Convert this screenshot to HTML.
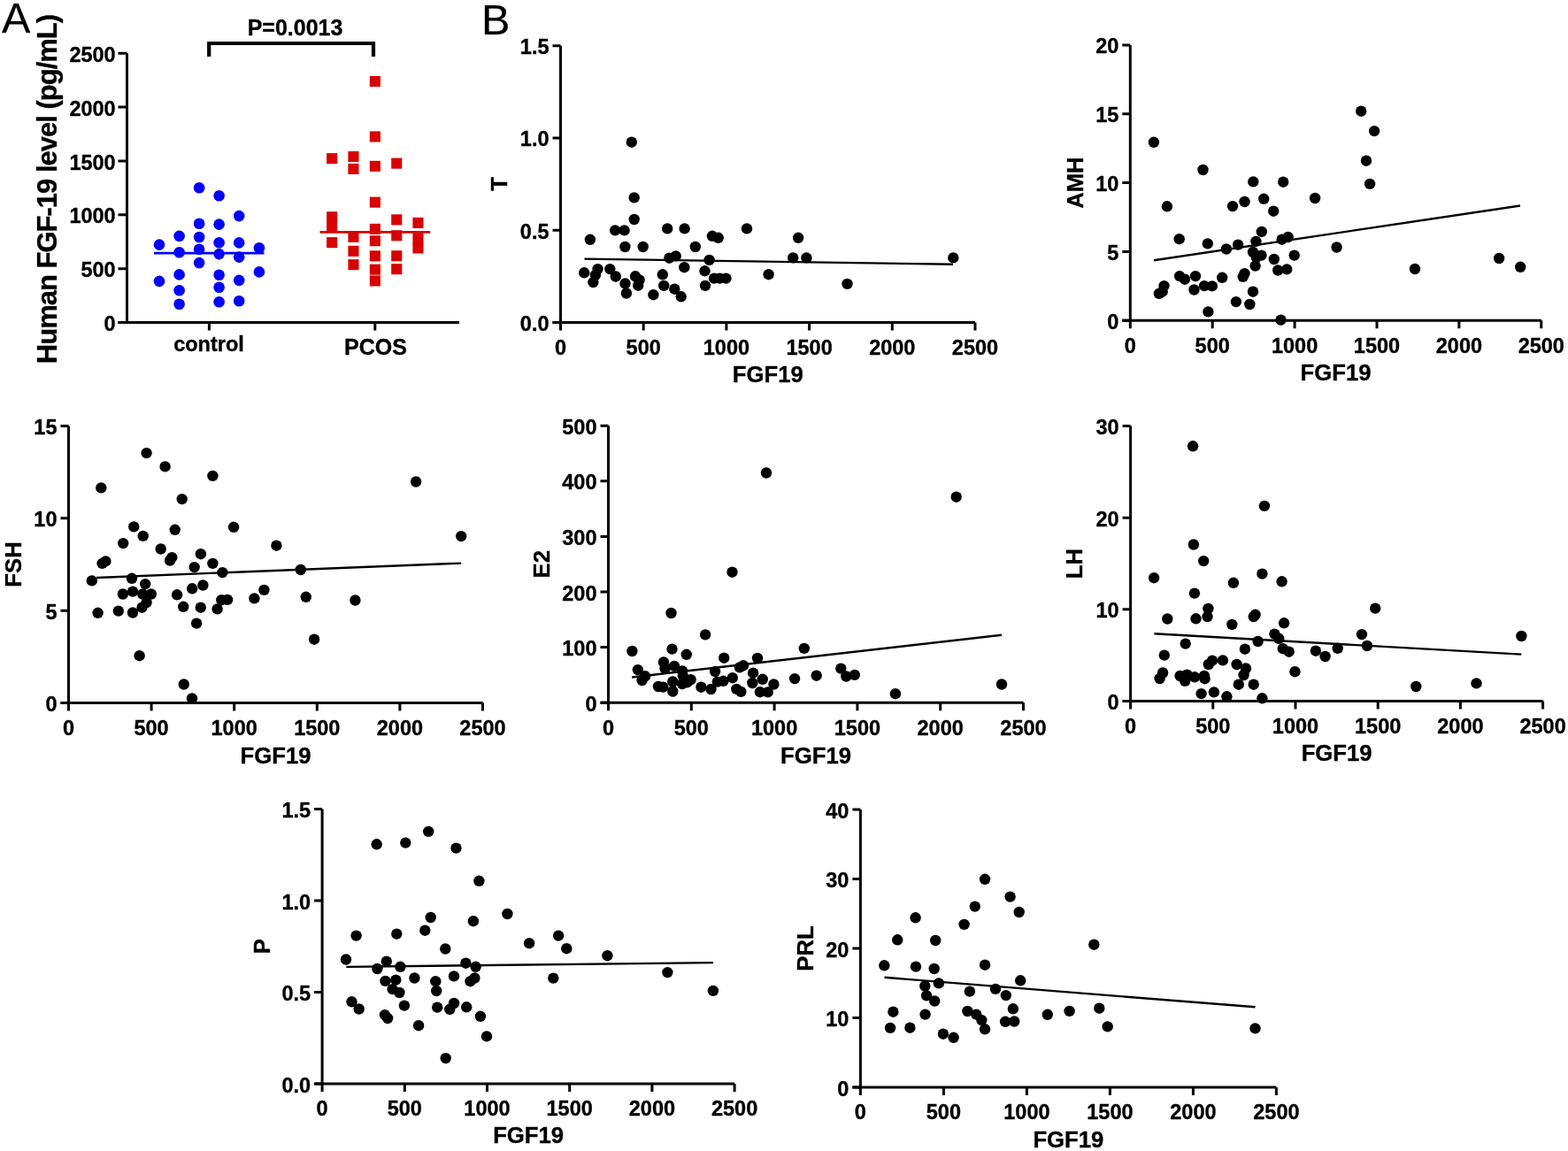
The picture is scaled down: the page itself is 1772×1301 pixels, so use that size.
<!DOCTYPE html>
<html><head><meta charset="utf-8"><title>FGF19 figure</title><style>html,body{margin:0;padding:0;background:#fff}body{width:1772px;height:1301px;overflow:hidden}svg{display:block}</style></head><body>
<svg width="1772" height="1301" viewBox="0 0 1772 1301">
<style>text{font-family:'Liberation Sans', Arial, Helvetica, sans-serif;font-weight:bold;fill:#000;stroke:#000;stroke-width:0.35px}.tl{font-size:23.5px}.tt{font-size:25.7px}.yt{font-size:31px;letter-spacing:-1px}.pl{font-weight:normal;font-size:48.5px;stroke-width:0.2px}.ax{fill:none;stroke:#000;stroke-width:3.0;stroke-linecap:butt}.rl{fill:none;stroke:#000;stroke-width:2.4}.dt{fill:#000}</style>
<rect width="1772" height="1301" fill="#fff"/>
<text x="2" y="37" class="pl">A</text>
<text x="544" y="39" class="pl">B</text>
<path d="M143.5 60.3V364.5 M133.5 364.5H519" class="ax"/>
<path d="M133.5 364.5H143.5 M133.5 303.7H143.5 M133.5 242.8H143.5 M133.5 182H143.5 M133.5 121.1H143.5 M133.5 60.3H143.5 M236.4 364.5V373.5 M423.8 364.5V373.5" class="ax"/>
<text x="130.7" y="374" class="tl" text-anchor="end">0</text>
<text x="130.7" y="313.2" class="tl" text-anchor="end">500</text>
<text x="130.7" y="252.3" class="tl" text-anchor="end">1000</text>
<text x="130.7" y="191.5" class="tl" text-anchor="end">1500</text>
<text x="130.7" y="130.6" class="tl" text-anchor="end">2000</text>
<text x="130.7" y="69.8" class="tl" text-anchor="end">2500</text>
<text x="236" y="396.9" class="tl" text-anchor="middle">control</text>
<text x="424.5" y="401" class="tt" style="font-size:25px" text-anchor="middle">PCOS</text>
<text transform="translate(64 214) rotate(-90)" class="yt" text-anchor="middle">Human FGF-19 level (pg/mL)</text>
<path d="M236.2 64V49H422V64" fill="none" stroke="#000" stroke-width="4.2" stroke-linejoin="miter"/>
<text x="333.5" y="40.3" class="tt" style="font-size:25px" text-anchor="middle">P=0.0013</text>
<g fill="#0000ff"><circle cx="180" cy="276.6" r="6.3"/><circle cx="180" cy="317.9" r="6.3"/><circle cx="202.6" cy="266.9" r="6.3"/><circle cx="202.6" cy="285.2" r="6.3"/><circle cx="202.6" cy="310.4" r="6.3"/><circle cx="202.6" cy="328.3" r="6.3"/><circle cx="202.6" cy="343.8" r="6.3"/><circle cx="225.1" cy="212.2" r="6.3"/><circle cx="225.1" cy="252.7" r="6.3"/><circle cx="225.1" cy="268" r="6.3"/><circle cx="225.1" cy="281.8" r="6.3"/><circle cx="225.1" cy="297.1" r="6.3"/><circle cx="247.6" cy="221.3" r="6.3"/><circle cx="247.6" cy="253.6" r="6.3"/><circle cx="247.6" cy="274.2" r="6.3"/><circle cx="247.6" cy="287.1" r="6.3"/><circle cx="247.6" cy="310.8" r="6.3"/><circle cx="247.6" cy="324.8" r="6.3"/><circle cx="247.6" cy="341.2" r="6.3"/><circle cx="270.2" cy="244.1" r="6.3"/><circle cx="270.2" cy="274.4" r="6.3"/><circle cx="270.2" cy="290.6" r="6.3"/><circle cx="270.2" cy="316.9" r="6.3"/><circle cx="270.2" cy="340.3" r="6.3"/><circle cx="292.9" cy="280.3" r="6.3"/><circle cx="292.9" cy="307.4" r="6.3"/></g>
<path d="M174 286.1H298.5" stroke="#0000ff" stroke-width="2.7"/>
<g fill="#d80000"><rect x="369.1" y="173.1" width="12.1" height="12.1"/><rect x="369.1" y="239.2" width="12.1" height="12.1"/><rect x="369.1" y="248.9" width="12.1" height="12.1"/><rect x="369.1" y="268.1" width="12.1" height="12.1"/><rect x="393.4" y="171" width="12.1" height="12.1"/><rect x="393.4" y="184.9" width="12.1" height="12.1"/><rect x="393.4" y="261.8" width="12.1" height="12.1"/><rect x="393.4" y="277.8" width="12.1" height="12.1"/><rect x="393.4" y="293.1" width="12.1" height="12.1"/><rect x="417.8" y="86" width="12.1" height="12.1"/><rect x="417.8" y="148.4" width="12.1" height="12.1"/><rect x="417.8" y="181.8" width="12.1" height="12.1"/><rect x="417.8" y="222.6" width="12.1" height="12.1"/><rect x="417.8" y="252.8" width="12.1" height="12.1"/><rect x="417.8" y="266.2" width="12.1" height="12.1"/><rect x="417.8" y="283.3" width="12.1" height="12.1"/><rect x="417.8" y="298.6" width="12.1" height="12.1"/><rect x="417.8" y="311.4" width="12.1" height="12.1"/><rect x="442.2" y="178.6" width="12.1" height="12.1"/><rect x="442.2" y="242.3" width="12.1" height="12.1"/><rect x="442.2" y="260.2" width="12.1" height="12.1"/><rect x="442.2" y="283.2" width="12.1" height="12.1"/><rect x="442.2" y="298.1" width="12.1" height="12.1"/><rect x="466.4" y="245.8" width="12.1" height="12.1"/><rect x="466.4" y="263.4" width="12.1" height="12.1"/><rect x="466.4" y="274.4" width="12.1" height="12.1"/></g>
<path d="M361.5 262.4H486.2" stroke="#d80000" stroke-width="2.9"/>
<path d="M633.5 51.7V373.4 M624.5 364.4H1102" class="ax"/>
<path d="M624.5 364.4H633.5 M624.5 260.2H633.5 M624.5 155.9H633.5 M624.5 51.7H633.5 M727.2 364.4V373.4 M820.9 364.4V373.4 M914.6 364.4V373.4 M1008.3 364.4V373.4 M1102 364.4V373.4" class="ax"/>
<text x="620.5" y="373.9" class="tl" text-anchor="end">0.0</text>
<text x="620.5" y="269.7" class="tl" text-anchor="end">0.5</text>
<text x="620.5" y="165.4" class="tl" text-anchor="end">1.0</text>
<text x="620.5" y="61.2" class="tl" text-anchor="end">1.5</text>
<text x="633.5" y="400.8" class="tl" text-anchor="middle">0</text>
<text x="727.2" y="400.8" class="tl" text-anchor="middle">500</text>
<text x="820.9" y="400.8" class="tl" text-anchor="middle">1000</text>
<text x="914.6" y="400.8" class="tl" text-anchor="middle">1500</text>
<text x="1008.3" y="400.8" class="tl" text-anchor="middle">2000</text>
<text x="1102" y="400.8" class="tl" text-anchor="middle">2500</text>
<text x="867.8" y="432.4" class="tt" text-anchor="middle">FGF19</text>
<text transform="translate(573 208) rotate(-90)" class="tt" text-anchor="middle">T</text>
<path d="M660.5 292.6L1077 298.8" class="rl"/>
<g class="dt"><circle cx="713.8" cy="160.7" r="6.2"/><circle cx="716.7" cy="223.4" r="6.2"/><circle cx="716.7" cy="248" r="6.2"/><circle cx="695.2" cy="260.4" r="6.2"/><circle cx="705.6" cy="260.4" r="6.2"/><circle cx="666.9" cy="270.8" r="6.2"/><circle cx="706.4" cy="279" r="6.2"/><circle cx="726.7" cy="279" r="6.2"/><circle cx="754.2" cy="258.4" r="6.2"/><circle cx="773.6" cy="258.4" r="6.2"/><circle cx="804.9" cy="266.8" r="6.2"/><circle cx="811.7" cy="268.8" r="6.2"/><circle cx="785.8" cy="279" r="6.2"/><circle cx="756.4" cy="291.7" r="6.2"/><circle cx="763.7" cy="289.4" r="6.2"/><circle cx="801.6" cy="293.9" r="6.2"/><circle cx="773.3" cy="302.2" r="6.2"/><circle cx="660.2" cy="308.3" r="6.2"/><circle cx="675.5" cy="304.1" r="6.2"/><circle cx="672.9" cy="310.9" r="6.2"/><circle cx="670.4" cy="319.1" r="6.2"/><circle cx="689.3" cy="304.1" r="6.2"/><circle cx="695.8" cy="312.5" r="6.2"/><circle cx="706.5" cy="320.5" r="6.2"/><circle cx="707.9" cy="331.5" r="6.2"/><circle cx="718" cy="312.3" r="6.2"/><circle cx="722.6" cy="316.5" r="6.2"/><circle cx="721.2" cy="322.7" r="6.2"/><circle cx="738.4" cy="333.2" r="6.2"/><circle cx="748.8" cy="310.3" r="6.2"/><circle cx="750.2" cy="322.9" r="6.2"/><circle cx="762.3" cy="326.7" r="6.2"/><circle cx="769.7" cy="335.3" r="6.2"/><circle cx="796.5" cy="306.3" r="6.2"/><circle cx="797" cy="322.9" r="6.2"/><circle cx="807" cy="314.6" r="6.2"/><circle cx="813.4" cy="314.6" r="6.2"/><circle cx="820.5" cy="314.6" r="6.2"/><circle cx="844" cy="258.4" r="6.2"/><circle cx="902.1" cy="268.8" r="6.2"/><circle cx="896.2" cy="291.4" r="6.2"/><circle cx="911.4" cy="291.4" r="6.2"/><circle cx="1077.3" cy="291.4" r="6.2"/><circle cx="868.6" cy="310.2" r="6.2"/><circle cx="957.5" cy="320.9" r="6.2"/></g>
<path d="M1277.3 50.9V371.3 M1268.3 362.3H1741.8" class="ax"/>
<path d="M1268.3 362.3H1277.3 M1268.3 284.4H1277.3 M1268.3 206.6H1277.3 M1268.3 128.8H1277.3 M1268.3 50.9H1277.3 M1370.2 362.3V371.3 M1463.1 362.3V371.3 M1556 362.3V371.3 M1648.9 362.3V371.3 M1741.8 362.3V371.3" class="ax"/>
<text x="1264.3" y="371.8" class="tl" text-anchor="end">0</text>
<text x="1264.3" y="293.9" class="tl" text-anchor="end">5</text>
<text x="1264.3" y="216.1" class="tl" text-anchor="end">10</text>
<text x="1264.3" y="138.2" class="tl" text-anchor="end">15</text>
<text x="1264.3" y="60.4" class="tl" text-anchor="end">20</text>
<text x="1277.3" y="398.7" class="tl" text-anchor="middle">0</text>
<text x="1370.2" y="398.7" class="tl" text-anchor="middle">500</text>
<text x="1463.1" y="398.7" class="tl" text-anchor="middle">1000</text>
<text x="1556" y="398.7" class="tl" text-anchor="middle">1500</text>
<text x="1648.9" y="398.7" class="tl" text-anchor="middle">2000</text>
<text x="1741.8" y="398.7" class="tl" text-anchor="middle">2500</text>
<text x="1509.5" y="430" class="tt" text-anchor="middle">FGF19</text>
<text transform="translate(1223.5 206.6) rotate(-90)" class="tt" text-anchor="middle">AMH</text>
<path d="M1304 294.2L1717.9 232.5" class="rl"/>
<g class="dt"><circle cx="1303.9" cy="160.8" r="6.2"/><circle cx="1359.5" cy="192" r="6.2"/><circle cx="1416.3" cy="205.4" r="6.2"/><circle cx="1450.2" cy="205.7" r="6.2"/><circle cx="1318.9" cy="233.3" r="6.2"/><circle cx="1393" cy="233.1" r="6.2"/><circle cx="1406.5" cy="228" r="6.2"/><circle cx="1428.2" cy="224.8" r="6.2"/><circle cx="1439.2" cy="238.7" r="6.2"/><circle cx="1486.1" cy="224" r="6.2"/><circle cx="1425.8" cy="261.9" r="6.2"/><circle cx="1332.7" cy="270.2" r="6.2"/><circle cx="1364.8" cy="275.4" r="6.2"/><circle cx="1385.9" cy="281.5" r="6.2"/><circle cx="1399.1" cy="276.6" r="6.2"/><circle cx="1419.4" cy="272.9" r="6.2"/><circle cx="1448.7" cy="270.7" r="6.2"/><circle cx="1455.6" cy="268" r="6.2"/><circle cx="1510.6" cy="279.5" r="6.2"/><circle cx="1416" cy="284.9" r="6.2"/><circle cx="1425.5" cy="288.6" r="6.2"/><circle cx="1419.7" cy="290.8" r="6.2"/><circle cx="1439.8" cy="293" r="6.2"/><circle cx="1462.7" cy="288.6" r="6.2"/><circle cx="1418.6" cy="300.6" r="6.2"/><circle cx="1444.2" cy="305.5" r="6.2"/><circle cx="1454.2" cy="304.4" r="6.2"/><circle cx="1406.5" cy="309.1" r="6.2"/><circle cx="1404.7" cy="312.8" r="6.2"/><circle cx="1381.2" cy="313.8" r="6.2"/><circle cx="1333.1" cy="312.1" r="6.2"/><circle cx="1339" cy="315.7" r="6.2"/><circle cx="1351" cy="312.1" r="6.2"/><circle cx="1361" cy="323.1" r="6.2"/><circle cx="1369.8" cy="323.4" r="6.2"/><circle cx="1349.5" cy="327.5" r="6.2"/><circle cx="1315.5" cy="323.1" r="6.2"/><circle cx="1313.7" cy="329.7" r="6.2"/><circle cx="1309.9" cy="331.9" r="6.2"/><circle cx="1416" cy="329.7" r="6.2"/><circle cx="1396.9" cy="341.1" r="6.2"/><circle cx="1412.3" cy="344" r="6.2"/><circle cx="1365.4" cy="352.4" r="6.2"/><circle cx="1447.5" cy="361.7" r="6.2"/><circle cx="1538.2" cy="125.7" r="6.2"/><circle cx="1553.1" cy="148.1" r="6.2"/><circle cx="1544" cy="181.7" r="6.2"/><circle cx="1548.1" cy="207.9" r="6.2"/><circle cx="1599" cy="304" r="6.2"/><circle cx="1694.1" cy="292" r="6.2"/><circle cx="1718.2" cy="301.8" r="6.2"/></g>
<path d="M77.5 481.5V803.5 M68.5 794.5H545.5" class="ax"/>
<path d="M68.5 794.5H77.5 M68.5 690.2H77.5 M68.5 585.8H77.5 M68.5 481.5H77.5 M171.1 794.5V803.5 M264.7 794.5V803.5 M358.3 794.5V803.5 M451.9 794.5V803.5 M545.5 794.5V803.5" class="ax"/>
<text x="64.5" y="804" class="tl" text-anchor="end">0</text>
<text x="64.5" y="699.7" class="tl" text-anchor="end">5</text>
<text x="64.5" y="595.3" class="tl" text-anchor="end">10</text>
<text x="64.5" y="491" class="tl" text-anchor="end">15</text>
<text x="77.5" y="830.9" class="tl" text-anchor="middle">0</text>
<text x="171.1" y="830.9" class="tl" text-anchor="middle">500</text>
<text x="264.7" y="830.9" class="tl" text-anchor="middle">1000</text>
<text x="358.3" y="830.9" class="tl" text-anchor="middle">1500</text>
<text x="451.9" y="830.9" class="tl" text-anchor="middle">2000</text>
<text x="545.5" y="830.9" class="tl" text-anchor="middle">2500</text>
<text x="311.5" y="862.5" class="tt" text-anchor="middle">FGF19</text>
<text transform="translate(24 638) rotate(-90)" class="tt" text-anchor="middle">FSH</text>
<path d="M109.2 653L521.2 636.6" class="rl"/>
<g class="dt"><circle cx="165.6" cy="512.1" r="6.2"/><circle cx="186.6" cy="527.4" r="6.2"/><circle cx="240.4" cy="537.9" r="6.2"/><circle cx="114.3" cy="551.4" r="6.2"/><circle cx="205.7" cy="564.1" r="6.2"/><circle cx="151.2" cy="595.4" r="6.2"/><circle cx="197.7" cy="598.8" r="6.2"/><circle cx="264.1" cy="595.8" r="6.2"/><circle cx="161.7" cy="605.9" r="6.2"/><circle cx="139.2" cy="614.1" r="6.2"/><circle cx="181.7" cy="620.5" r="6.2"/><circle cx="194.3" cy="630.1" r="6.2"/><circle cx="192.1" cy="633.5" r="6.2"/><circle cx="119.4" cy="634.4" r="6.2"/><circle cx="115.6" cy="636.9" r="6.2"/><circle cx="226.9" cy="626.2" r="6.2"/><circle cx="240.4" cy="636.9" r="6.2"/><circle cx="219.7" cy="641.1" r="6.2"/><circle cx="251.4" cy="647.1" r="6.2"/><circle cx="103.8" cy="656.4" r="6.2"/><circle cx="149" cy="653.8" r="6.2"/><circle cx="164.2" cy="660.1" r="6.2"/><circle cx="229.4" cy="661.5" r="6.2"/><circle cx="217.2" cy="665.3" r="6.2"/><circle cx="138.9" cy="671.5" r="6.2"/><circle cx="150" cy="668.6" r="6.2"/><circle cx="161.2" cy="671.5" r="6.2"/><circle cx="170.8" cy="671.5" r="6.2"/><circle cx="165.6" cy="681.1" r="6.2"/><circle cx="160.5" cy="686.7" r="6.2"/><circle cx="110.6" cy="692.8" r="6.2"/><circle cx="133.8" cy="690.6" r="6.2"/><circle cx="150" cy="692.5" r="6.2"/><circle cx="200.1" cy="672.3" r="6.2"/><circle cx="207.2" cy="685.8" r="6.2"/><circle cx="226.8" cy="686.7" r="6.2"/><circle cx="250.3" cy="678.2" r="6.2"/><circle cx="257.1" cy="677.9" r="6.2"/><circle cx="245.6" cy="688.4" r="6.2"/><circle cx="287.4" cy="676.4" r="6.2"/><circle cx="298.4" cy="666.9" r="6.2"/><circle cx="222.1" cy="704.6" r="6.2"/><circle cx="157.6" cy="741.2" r="6.2"/><circle cx="207.8" cy="773.5" r="6.2"/><circle cx="217" cy="789.4" r="6.2"/><circle cx="470.1" cy="544.5" r="6.2"/><circle cx="521.2" cy="606.1" r="6.2"/><circle cx="312.4" cy="616.7" r="6.2"/><circle cx="339.8" cy="644" r="6.2"/><circle cx="345.8" cy="674.8" r="6.2"/><circle cx="401.4" cy="678.5" r="6.2"/><circle cx="355.1" cy="722.7" r="6.2"/></g>
<path d="M687.5 481.2V803.2 M678.5 794.2H1156.5" class="ax"/>
<path d="M678.5 794.2H687.5 M678.5 731.6H687.5 M678.5 669H687.5 M678.5 606.4H687.5 M678.5 543.8H687.5 M678.5 481.2H687.5 M781.3 794.2V803.2 M875.1 794.2V803.2 M968.9 794.2V803.2 M1062.7 794.2V803.2 M1156.5 794.2V803.2" class="ax"/>
<text x="674.5" y="803.7" class="tl" text-anchor="end">0</text>
<text x="674.5" y="741.1" class="tl" text-anchor="end">100</text>
<text x="674.5" y="678.5" class="tl" text-anchor="end">200</text>
<text x="674.5" y="615.9" class="tl" text-anchor="end">300</text>
<text x="674.5" y="553.3" class="tl" text-anchor="end">400</text>
<text x="674.5" y="490.7" class="tl" text-anchor="end">500</text>
<text x="687.5" y="830.6" class="tl" text-anchor="middle">0</text>
<text x="781.3" y="830.6" class="tl" text-anchor="middle">500</text>
<text x="875.1" y="830.6" class="tl" text-anchor="middle">1000</text>
<text x="968.9" y="830.6" class="tl" text-anchor="middle">1500</text>
<text x="1062.7" y="830.6" class="tl" text-anchor="middle">2000</text>
<text x="1156.5" y="830.6" class="tl" text-anchor="middle">2500</text>
<text x="922" y="862.5" class="tt" text-anchor="middle">FGF19</text>
<text transform="translate(620.8 637.7) rotate(-90)" class="tt" text-anchor="middle">E2</text>
<path d="M714.2 765.5L1132 717.7" class="rl"/>
<g class="dt"><circle cx="866" cy="534.5" r="6.2"/><circle cx="827.5" cy="646.7" r="6.2"/><circle cx="1080.7" cy="561.7" r="6.2"/><circle cx="758.5" cy="693" r="6.2"/><circle cx="797.1" cy="717.4" r="6.2"/><circle cx="714.4" cy="736" r="6.2"/><circle cx="759.5" cy="733.6" r="6.2"/><circle cx="775.8" cy="739.8" r="6.2"/><circle cx="818.2" cy="743.7" r="6.2"/><circle cx="856" cy="743.9" r="6.2"/><circle cx="750" cy="748.5" r="6.2"/><circle cx="762" cy="752.9" r="6.2"/><circle cx="751.5" cy="755.5" r="6.2"/><circle cx="771.1" cy="758.4" r="6.2"/><circle cx="720.8" cy="757.1" r="6.2"/><circle cx="729.1" cy="764.3" r="6.2"/><circle cx="725.6" cy="769" r="6.2"/><circle cx="808.1" cy="759.1" r="6.2"/><circle cx="835.9" cy="754.4" r="6.2"/><circle cx="840" cy="752.3" r="6.2"/><circle cx="851.1" cy="760.7" r="6.2"/><circle cx="827.8" cy="766.2" r="6.2"/><circle cx="817.4" cy="769.8" r="6.2"/><circle cx="810.8" cy="770.6" r="6.2"/><circle cx="780.6" cy="768.2" r="6.2"/><circle cx="776.5" cy="771.3" r="6.2"/><circle cx="771" cy="773.1" r="6.2"/><circle cx="771.8" cy="764.1" r="6.2"/><circle cx="760.3" cy="770.5" r="6.2"/><circle cx="744" cy="776" r="6.2"/><circle cx="749.4" cy="776.6" r="6.2"/><circle cx="760.3" cy="781.5" r="6.2"/><circle cx="792.4" cy="776.7" r="6.2"/><circle cx="803.5" cy="779" r="6.2"/><circle cx="832.3" cy="778.9" r="6.2"/><circle cx="837.3" cy="781.9" r="6.2"/><circle cx="850.3" cy="772" r="6.2"/><circle cx="861.8" cy="767.8" r="6.2"/><circle cx="874.4" cy="773.5" r="6.2"/><circle cx="858.9" cy="782.2" r="6.2"/><circle cx="867.7" cy="782.4" r="6.2"/><circle cx="898.1" cy="767.1" r="6.2"/><circle cx="908.8" cy="732.9" r="6.2"/><circle cx="922.7" cy="763.7" r="6.2"/><circle cx="950.3" cy="755.6" r="6.2"/><circle cx="956.3" cy="764.5" r="6.2"/><circle cx="965.8" cy="762.9" r="6.2"/><circle cx="1011.9" cy="784.2" r="6.2"/><circle cx="1132" cy="773.5" r="6.2"/></g>
<path d="M1277.6 481.5V801.5 M1268.6 792.5H1743.6" class="ax"/>
<path d="M1268.6 792.5H1277.6 M1268.6 688.8H1277.6 M1268.6 585.2H1277.6 M1268.6 481.5H1277.6 M1370.8 792.5V801.5 M1464 792.5V801.5 M1557.2 792.5V801.5 M1650.4 792.5V801.5 M1743.6 792.5V801.5" class="ax"/>
<text x="1264.6" y="802" class="tl" text-anchor="end">0</text>
<text x="1264.6" y="698.3" class="tl" text-anchor="end">10</text>
<text x="1264.6" y="594.7" class="tl" text-anchor="end">20</text>
<text x="1264.6" y="491" class="tl" text-anchor="end">30</text>
<text x="1277.6" y="828.9" class="tl" text-anchor="middle">0</text>
<text x="1370.8" y="828.9" class="tl" text-anchor="middle">500</text>
<text x="1464" y="828.9" class="tl" text-anchor="middle">1000</text>
<text x="1557.2" y="828.9" class="tl" text-anchor="middle">1500</text>
<text x="1650.4" y="828.9" class="tl" text-anchor="middle">2000</text>
<text x="1743.6" y="828.9" class="tl" text-anchor="middle">2500</text>
<text x="1510.6" y="860.4" class="tt" text-anchor="middle">FGF19</text>
<text transform="translate(1223 637) rotate(-90)" class="tt" text-anchor="middle">LH</text>
<path d="M1304.4 716.3L1719.3 739.6" class="rl"/>
<g class="dt"><circle cx="1348.1" cy="504.3" r="6.2"/><circle cx="1428.9" cy="571.9" r="6.2"/><circle cx="1348.9" cy="615.5" r="6.2"/><circle cx="1360.2" cy="634.1" r="6.2"/><circle cx="1304.1" cy="653.2" r="6.2"/><circle cx="1393.9" cy="658.8" r="6.2"/><circle cx="1426.4" cy="648.6" r="6.2"/><circle cx="1448.6" cy="657.3" r="6.2"/><circle cx="1349.9" cy="670.6" r="6.2"/><circle cx="1319.3" cy="699.5" r="6.2"/><circle cx="1351.5" cy="699.3" r="6.2"/><circle cx="1365.4" cy="688" r="6.2"/><circle cx="1364.5" cy="697.1" r="6.2"/><circle cx="1392.3" cy="705.9" r="6.2"/><circle cx="1418.6" cy="694.8" r="6.2"/><circle cx="1416.7" cy="697.1" r="6.2"/><circle cx="1451.1" cy="704.3" r="6.2"/><circle cx="1339.7" cy="727.6" r="6.2"/><circle cx="1421.6" cy="725" r="6.2"/><circle cx="1440.4" cy="716.6" r="6.2"/><circle cx="1445.2" cy="721.8" r="6.2"/><circle cx="1406.9" cy="733.7" r="6.2"/><circle cx="1449.8" cy="733.2" r="6.2"/><circle cx="1456.7" cy="736.7" r="6.2"/><circle cx="1486.9" cy="735.7" r="6.2"/><circle cx="1497.6" cy="742" r="6.2"/><circle cx="1315.8" cy="740.6" r="6.2"/><circle cx="1314.1" cy="760.5" r="6.2"/><circle cx="1310.6" cy="767" r="6.2"/><circle cx="1333.6" cy="764" r="6.2"/><circle cx="1341.4" cy="762.7" r="6.2"/><circle cx="1339.2" cy="769.8" r="6.2"/><circle cx="1350.1" cy="765.3" r="6.2"/><circle cx="1360.9" cy="764" r="6.2"/><circle cx="1361.5" cy="767.2" r="6.2"/><circle cx="1365.8" cy="751" r="6.2"/><circle cx="1370" cy="746.7" r="6.2"/><circle cx="1381.9" cy="746.4" r="6.2"/><circle cx="1397.6" cy="751" r="6.2"/><circle cx="1407.9" cy="755.5" r="6.2"/><circle cx="1405.6" cy="763" r="6.2"/><circle cx="1399.8" cy="773.7" r="6.2"/><circle cx="1416.7" cy="773.7" r="6.2"/><circle cx="1463.4" cy="759.2" r="6.2"/><circle cx="1357.6" cy="784.1" r="6.2"/><circle cx="1371.9" cy="782.4" r="6.2"/><circle cx="1386.4" cy="787.3" r="6.2"/><circle cx="1426.4" cy="789.3" r="6.2"/><circle cx="1554.2" cy="687.6" r="6.2"/><circle cx="1539" cy="717.1" r="6.2"/><circle cx="1544.9" cy="730" r="6.2"/><circle cx="1511.7" cy="732.8" r="6.2"/><circle cx="1719.4" cy="719" r="6.2"/><circle cx="1600.3" cy="776" r="6.2"/><circle cx="1668.5" cy="772.4" r="6.2"/></g>
<path d="M364.1 914.5V1234 M355.1 1225H830.1" class="ax"/>
<path d="M355.1 1225H364.1 M355.1 1121.5H364.1 M355.1 1018H364.1 M355.1 914.5H364.1 M457.3 1225V1234 M550.5 1225V1234 M643.7 1225V1234 M736.9 1225V1234 M830.1 1225V1234" class="ax"/>
<text x="351.1" y="1234.5" class="tl" text-anchor="end">0.0</text>
<text x="351.1" y="1131" class="tl" text-anchor="end">0.5</text>
<text x="351.1" y="1027.5" class="tl" text-anchor="end">1.0</text>
<text x="351.1" y="924" class="tl" text-anchor="end">1.5</text>
<text x="364.1" y="1261.4" class="tl" text-anchor="middle">0</text>
<text x="457.3" y="1261.4" class="tl" text-anchor="middle">500</text>
<text x="550.5" y="1261.4" class="tl" text-anchor="middle">1000</text>
<text x="643.7" y="1261.4" class="tl" text-anchor="middle">1500</text>
<text x="736.9" y="1261.4" class="tl" text-anchor="middle">2000</text>
<text x="830.1" y="1261.4" class="tl" text-anchor="middle">2500</text>
<text x="597.1" y="1291.7" class="tt" text-anchor="middle">FGF19</text>
<text transform="translate(305 1069.8) rotate(-90)" class="tt" text-anchor="middle">P</text>
<path d="M391.4 1092.9L805.9 1088.1" class="rl"/>
<g class="dt"><circle cx="425.7" cy="954.3" r="6.2"/><circle cx="458.3" cy="952.6" r="6.2"/><circle cx="484.2" cy="939.9" r="6.2"/><circle cx="515.5" cy="958.6" r="6.2"/><circle cx="541.4" cy="995.8" r="6.2"/><circle cx="486.7" cy="1037" r="6.2"/><circle cx="534.9" cy="1041.2" r="6.2"/><circle cx="573.4" cy="1033" r="6.2"/><circle cx="402.6" cy="1057.6" r="6.2"/><circle cx="448.3" cy="1055.6" r="6.2"/><circle cx="480.3" cy="1051.7" r="6.2"/><circle cx="503.3" cy="1072.5" r="6.2"/><circle cx="391" cy="1084.5" r="6.2"/><circle cx="436.8" cy="1086.7" r="6.2"/><circle cx="426.4" cy="1095" r="6.2"/><circle cx="452.4" cy="1092.8" r="6.2"/><circle cx="526.4" cy="1088.7" r="6.2"/><circle cx="537.6" cy="1092.8" r="6.2"/><circle cx="435.5" cy="1108.9" r="6.2"/><circle cx="447.3" cy="1107.6" r="6.2"/><circle cx="443.6" cy="1118.1" r="6.2"/><circle cx="451.4" cy="1122" r="6.2"/><circle cx="468.4" cy="1105.5" r="6.2"/><circle cx="492.3" cy="1109.2" r="6.2"/><circle cx="493.2" cy="1120" r="6.2"/><circle cx="513" cy="1103.4" r="6.2"/><circle cx="531.5" cy="1109.2" r="6.2"/><circle cx="536.4" cy="1105.5" r="6.2"/><circle cx="397.5" cy="1132.3" r="6.2"/><circle cx="405.7" cy="1140.5" r="6.2"/><circle cx="434.9" cy="1147.1" r="6.2"/><circle cx="438.1" cy="1151" r="6.2"/><circle cx="456.9" cy="1136.6" r="6.2"/><circle cx="473.1" cy="1159.2" r="6.2"/><circle cx="494.2" cy="1138.6" r="6.2"/><circle cx="513.1" cy="1134" r="6.2"/><circle cx="508.3" cy="1140.8" r="6.2"/><circle cx="527.2" cy="1138.3" r="6.2"/><circle cx="542.9" cy="1148.8" r="6.2"/><circle cx="550" cy="1171.4" r="6.2"/><circle cx="503.7" cy="1196.1" r="6.2"/><circle cx="598.1" cy="1066.2" r="6.2"/><circle cx="631.1" cy="1057.6" r="6.2"/><circle cx="640.3" cy="1072.2" r="6.2"/><circle cx="686.4" cy="1080.2" r="6.2"/><circle cx="625.3" cy="1105.6" r="6.2"/><circle cx="754.4" cy="1099.1" r="6.2"/><circle cx="805.9" cy="1119.9" r="6.2"/></g>
<path d="M972.4 915.1V1238 M963.4 1229H1442.4" class="ax"/>
<path d="M963.4 1229H972.4 M963.4 1150.5H972.4 M963.4 1072H972.4 M963.4 993.6H972.4 M963.4 915.1H972.4 M1066.4 1229V1238 M1160.4 1229V1238 M1254.4 1229V1238 M1348.4 1229V1238 M1442.4 1229V1238" class="ax"/>
<text x="959.4" y="1238.5" class="tl" text-anchor="end">0</text>
<text x="959.4" y="1160" class="tl" text-anchor="end">10</text>
<text x="959.4" y="1081.5" class="tl" text-anchor="end">20</text>
<text x="959.4" y="1003.1" class="tl" text-anchor="end">30</text>
<text x="959.4" y="924.6" class="tl" text-anchor="end">40</text>
<text x="972.4" y="1265.4" class="tl" text-anchor="middle">0</text>
<text x="1066.4" y="1265.4" class="tl" text-anchor="middle">500</text>
<text x="1160.4" y="1265.4" class="tl" text-anchor="middle">1000</text>
<text x="1254.4" y="1265.4" class="tl" text-anchor="middle">1500</text>
<text x="1348.4" y="1265.4" class="tl" text-anchor="middle">2000</text>
<text x="1442.4" y="1265.4" class="tl" text-anchor="middle">2500</text>
<text x="1207.4" y="1296.8" class="tt" text-anchor="middle">FGF19</text>
<text transform="translate(919.3 1072) rotate(-90)" class="tt" text-anchor="middle">PRL</text>
<path d="M999.5 1104.8L1418.5 1138.3" class="rl"/>
<g class="dt"><circle cx="1113.1" cy="993.8" r="6.2"/><circle cx="1141.6" cy="1013.6" r="6.2"/><circle cx="1101.8" cy="1024.6" r="6.2"/><circle cx="1151.7" cy="1031" r="6.2"/><circle cx="1034.6" cy="1037.3" r="6.2"/><circle cx="1089.6" cy="1044.9" r="6.2"/><circle cx="1014.2" cy="1062.3" r="6.2"/><circle cx="1057.2" cy="1063" r="6.2"/><circle cx="999.3" cy="1091.3" r="6.2"/><circle cx="1035" cy="1092.6" r="6.2"/><circle cx="1055.7" cy="1095" r="6.2"/><circle cx="1113.1" cy="1090.7" r="6.2"/><circle cx="1060.9" cy="1111.4" r="6.2"/><circle cx="1045.3" cy="1114.5" r="6.2"/><circle cx="1047.1" cy="1125.4" r="6.2"/><circle cx="1056.2" cy="1131.5" r="6.2"/><circle cx="1095.9" cy="1120.6" r="6.2"/><circle cx="1125" cy="1117.9" r="6.2"/><circle cx="1136.8" cy="1125.1" r="6.2"/><circle cx="1153.2" cy="1108.3" r="6.2"/><circle cx="1009.4" cy="1143.7" r="6.2"/><circle cx="1045.6" cy="1146.6" r="6.2"/><circle cx="1093.4" cy="1143" r="6.2"/><circle cx="1103.3" cy="1146.6" r="6.2"/><circle cx="1109.4" cy="1153.1" r="6.2"/><circle cx="1113.1" cy="1163.3" r="6.2"/><circle cx="1144.9" cy="1140.3" r="6.2"/><circle cx="1136.1" cy="1154.8" r="6.2"/><circle cx="1146.2" cy="1154.5" r="6.2"/><circle cx="1183.8" cy="1146.8" r="6.2"/><circle cx="1006.1" cy="1161.9" r="6.2"/><circle cx="1028.4" cy="1161.7" r="6.2"/><circle cx="1065.9" cy="1168.7" r="6.2"/><circle cx="1077.6" cy="1172.8" r="6.2"/><circle cx="1236.3" cy="1067.7" r="6.2"/><circle cx="1208.6" cy="1142.9" r="6.2"/><circle cx="1242.3" cy="1139.7" r="6.2"/><circle cx="1251.7" cy="1160.4" r="6.2"/><circle cx="1418.5" cy="1162.4" r="6.2"/></g>
</svg>
</body></html>
